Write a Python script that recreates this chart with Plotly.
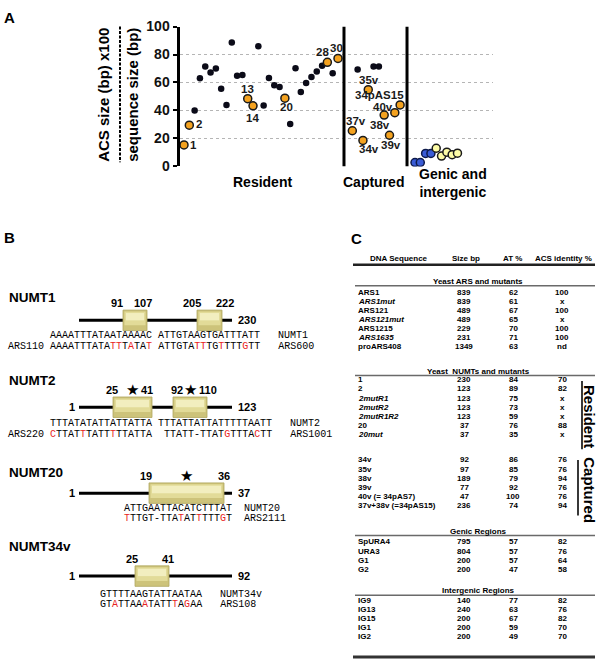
import plotly.graph_objects as go

W, H = 603, 670
ARIAL = "Liberation Sans, Arial, sans-serif"
MONO = "Liberation Mono, Courier New, monospace"
RED = "#e8231c"

# ---------------- Panel A data ----------------
resident_vals = [15.4, 29.5, 40, 63, 71.4, 67.2, 70, 55.5, 44, 88.6, 64.9, 65.3, 48.4, 43.3, 86,
                 43.5, 63.2, 58, 56.7, 48.8, 30.4, 70.2, 53.2, 59.7, 63.9, 67.9, 71.9, 74.4, 66.7, 77.2]
resident_labels = ["1", "2", "", "", "", "", "", "", "", "", "", "", "13", "14", "", "", "", "", "", "20",
                   "", "", "", "", "", "", "", "28", "", "30"]
captured_vals = [25.5, 69.3, 18.6, 54.9, 71.4, 71.4, 36.7, 22.3, 38.4, 44.0]
captured_labels = ["37v", "", "34v", "35v", "", "", "38v", "39v", "40v", "34pAS15"]
genic_vals = [2.8, 2.8, 9.3, 9.3]
intergenic_vals = [13.0, 7.4, 10.2, 8.4, 9.5]
y_ticks = [0, 20, 40, 60, 80, 100]
group_names = ["Resident", "Captured", "Genic and<br>intergenic"]

# label offsets (px) for highlighted points
label_shift = {"1": (9, 0), "2": (10, 1), "13": (0, 10), "14": (-1, -12), "20": (2, -9),
               "28": (-5, 10), "30": (-1, 10), "37v": (4, 10), "34v": (6, -9), "35v": (1, 10),
               "38v": (-4, -10), "40v": (-12, 6), "39v": (1, -10), "34pAS15": (-21, 10)}

# ---------------- Panel B data ----------------
numt_names = ["NUMT1", "NUMT2", "NUMT20", "NUMT34v"]
numt_lengths = [230, 123, 37, 92]
numt_acs = [[(91, 107), (205, 222)], [(25, 41), (92, 110)], [(19, 36)], [(25, 41)]]
numt_stars = [[False, False], [True, True], [True], [False]]
numt_top = [["AAAATTTATAATAAAAC", "ATTGTAAGTGATTTATT"],
            ["TTTATATATTATTATTA", "TTTATTATTATTTTTAATT"],
            ["ATTGAATTACATCTTTAT"],
            ["GTTTTAAGTATTAATAA"]]
numt_bot = [["AAAATTTATATTTATAT", "ATTGTATTTGTTTTGTT"],
            ["CTTATTTATTTTTATTA", "TTATT-TTATGTTTACTT"],
            ["TTTGT-TTATATTTTTGT"],
            ["GTATTAAATATTTAGAA"]]
numt_red = [[[11, 12, 14, 17], [7, 8, 11, 15]],
            [[1, 6, 11], [11, 16]],
            [[1, 10, 13, 17]],
            [[3, 8, 13, 15]]]
ars_names = ["ARS110", "ARS220", "", ""]
right_top = ["NUMT1", "NUMT2", "NUMT20", "NUMT34v"]
right_bot = ["ARS600", "ARS1001", "ARS2111", "ARS108"]

# ---------------- Panel C data ----------------
col_headers = ["DNA Sequence", "Size bp", "AT %", "ACS identity %"]
sections = ["Yeast ARS and mutants", "Yeast  NUMTs and mutants", "", "Genic Regions", "Intergenic Regions"]
sec_names = [["ARS1", "ARS1mut", "ARS121", "ARS121mut", "ARS1215", "ARS1635", "proARS408"],
             ["1", "2", "2mutR1", "2mutR2", "2mutR1R2", "20", "20mut"],
             ["34v", "35v", "38v", "39v", "40v (= 34pAS7)", "37v+38v (=34pAS15)"],
             ["SpURA4", "URA3", "G1", "G2"],
             ["IG9", "IG13", "IG15", "IG1", "IG2"]]
sec_size = [[839, 839, 489, 489, 229, 231, 1349], [230, 123, 123, 123, 123, 37, 37],
            [92, 97, 189, 77, 47, 236], [795, 804, 200, 200], [140, 240, 200, 200, 200]]
sec_at = [[62, 61, 67, 65, 70, 71, 63], [84, 89, 75, 73, 59, 76, 35],
          [86, 85, 79, 92, 100, 74], [57, 57, 57, 47], [77, 63, 67, 59, 49]]
sec_acs = [["100", "x", "100", "x", "100", "100", "nd"], ["70", "82", "x", "x", "x", "88", "x"],
           ["76", "76", "94", "76", "76", "94"], ["82", "76", "64", "58"], ["82", "76", "82", "70", "70"]]
italic_names = {"ARS1mut", "ARS121mut", "ARS1635", "2mutR1", "2mutR2", "2mutR1R2", "20mut"}
side_labels = ["Resident", "Captured"]

# ---------------- helpers ----------------
ann, shp = [], []


def px(x):
    return x / W


def py(y):
    return 1 - y / H


def text(x, y, s, size, anchor="center", color="#000000", family=ARIAL, angle=0, bold=True):
    ann.append(dict(x=px(x), y=py(y), xref="paper", yref="paper", text=(f"<b>{s}</b>" if bold else s),
                    showarrow=False, xanchor=anchor, yanchor="middle", textangle=angle,
                    font=dict(size=size, color=color, family=family), borderpad=0))


def line(x0, y0, x1, y1, width=1, color="black", dash="solid"):
    shp.append(dict(type="line", xref="paper", yref="paper", x0=px(x0), y0=py(y0), x1=px(x1), y1=py(y1),
                    line=dict(color=color, width=width, dash=dash)))


def rect(x0, y0, x1, y1, fill, lc="rgba(0,0,0,0)", lw=0):
    shp.append(dict(type="rect", xref="paper", yref="paper", x0=px(x0), y0=py(y0), x1=px(x1), y1=py(y1),
                    fillcolor=fill, line=dict(color=lc, width=lw), layer="above"))


# ---------------- Panel A ----------------
fig = go.Figure()
x0_px, step_px = 184.0, 5.31
cap_start, gen_start = 32.7, 44.5
res_x = [i + 1 for i in range(len(resident_vals))]
cap_x = [cap_start + i for i in range(len(captured_vals))]
gen_x = [gen_start + i for i in range(len(genic_vals))]
ig_x = [gen_start + len(genic_vals) + i for i in range(len(intergenic_vals))]


def split(xs, vals, labels):
    hx, hy, bx, by = [], [], [], []
    for x, v, l in zip(xs, vals, labels):
        if l:
            hx.append(x); hy.append(v)
        else:
            bx.append(x); by.append(v)
    return hx, hy, bx, by


rhx, rhy, rbx, rby = split(res_x, resident_vals, resident_labels)
chx, chy, cbx, cby = split(cap_x, captured_vals, captured_labels)
fig.add_trace(go.Scatter(x=rbx + cbx, y=rby + cby, mode="markers",
                         marker=dict(size=6.5, color="#0b0b18"), showlegend=False))
fig.add_trace(go.Scatter(x=rhx + chx, y=rhy + chy, mode="markers",
                         marker=dict(size=8, color="#f4a21f", line=dict(color="#1a1a1a", width=1.5)),
                         showlegend=False))
fig.add_trace(go.Scatter(x=gen_x, y=genic_vals, mode="markers",
                         marker=dict(size=8, color="#3a5cd6", line=dict(color="#0e1a4a", width=1.5)),
                         showlegend=False))
fig.add_trace(go.Scatter(x=ig_x, y=intergenic_vals, mode="markers",
                         marker=dict(size=8, color="#fdfca6", line=dict(color="#1a1a1a", width=1.5)),
                         showlegend=False))

for xs, vals, labels in [(res_x, resident_vals, resident_labels), (cap_x, captured_vals, captured_labels)]:
    for x, v, l in zip(xs, vals, labels):
        if l:
            dx, dy = label_shift[l]
            ann.append(dict(x=x, y=v, xref="x", yref="y", text=f"<b>{l}</b>", showarrow=False,
                            xshift=dx, yshift=dy, borderpad=0,
                            font=dict(size=11.5, color="#1a1a1a", family=ARIAL)))

# separators
for sep in [31.13, 43.0]:
    shp.append(dict(type="line", xref="x", yref="y", x0=sep, x1=sep, y0=0, y1=100,
                    line=dict(color="black", width=3)))

ax_left, ax_right, y_top, y_bot = 179.5, 493, 19, 162.3
xr0 = 1 + (ax_left - x0_px) / step_px
xr1 = 1 + (ax_right - x0_px) / step_px
fig.update_xaxes(domain=[px(ax_left), px(ax_right)], range=[xr0, xr1], visible=False)
fig.update_yaxes(domain=[py(y_bot), py(y_top)], range=[0, 100], tickvals=y_ticks,
                 showgrid=True, gridcolor="#b5b5b5", griddash="dot", gridwidth=1, zeroline=False,
                 showline=True, linecolor="black", linewidth=3, ticks="outside", ticklen=4, tickwidth=2,
                 tickcolor="black", tickfont=dict(size=14, family=ARIAL, color="#111", weight="bold"))

text(9, 10, "A", 15)
text(104, 89, "ACS size (bp) x100", 15, angle=-90)
text(133, 89, "sequence size (bp)", 15, angle=-90)
line(120, 19, 120, 158, width=2, dash="3px,1.5px")
text(262, 178, group_names[0], 14)
text(374, 178, group_names[1], 14)
text(418, 179, group_names[2], 14, anchor="left")

# ---------------- Panel B (schematic, not to scale) ----------------
text(9, 235, "B", 15)
sec_y = [297, 382, 476, 552]      # name label
line_y = [320, 409, 497, 582]
seq_y = [336, 426, 513, 601]
seq_x = [49, 49, 123, 99]
label_gap = [3, 3, 2, 3]          # spaces between sequence and right-hand label
line_x0, line_x1 = 79, 232
box_px = [[(123, 147), (197, 222)], [(113, 152), (173, 207)], [(149, 224)], [(135, 169)]]
num_px = [[(117, 143), (192, 225)], [(112, 147), (177, 208)], [(146, 224)], [(132, 168)]]
CW = 6.0
LS = 10.5
NB = "\u00a0"


def colored(seq, reds):
    out = []
    for i, ch in enumerate(seq):
        out.append(f"<span style='color:{RED}'>{ch}</span>" if (i + 1) in reds else ch)
    return "".join(out)


for k, name in enumerate(numt_names):
    L = numt_lengths[k]
    text(8, sec_y[k], name, 13.5, anchor="left")
    ly = line_y[k]
    line(line_x0, ly, line_x1, ly, width=3)
    if k > 0:
        text(line_x0 - 3, ly, "1", 11, anchor="right")
    text(line_x1 + 5, ly, str(L), 11, anchor="left")

    for j, (a, b) in enumerate(numt_acs[k]):
        bx0, bx1 = box_px[k][j]
        nx0, nx1 = num_px[k][j]
        rect(bx0, ly - 10.5, bx1, ly + 10.5, "#cdc37a", "#b0a760", 0.8)
        rect(bx0 + 1.5, ly - 9, bx1 - 1.5, ly + 5, "#e2db98")
        rect(bx0 + 3, ly - 7.5, bx1 - 3, ly, "#f2eebf")
        text(nx0, ly - 18, str(a), 11)
        text(nx1, ly - 18, str(b), 11)
        if numt_stars[k][j]:
            text((bx0 + bx1) / 2, ly - 18, "★", 15, bold=False)

    # sequences (one text element per line, label appended)
    tops, bots, reds = numt_top[k], numt_bot[k], numt_red[k]
    if len(tops) == 2:
        gap_bot = NB if len(bots[1]) == len(tops[1]) else NB * 2
        top_plain = tops[0] + NB + tops[1]
        bot_plain_len = len(bots[0]) + len(gap_bot) + len(bots[1])
        bot_s = colored(bots[0], reds[0]) + gap_bot + colored(bots[1], reds[1])
    else:
        top_plain = tops[0]
        bot_plain_len = len(bots[0])
        bot_s = colored(bots[0], reds[0])
    width = max(len(top_plain), bot_plain_len)
    top_s = top_plain + NB * (width - len(top_plain) + label_gap[k]) + right_top[k]
    bot_s = bot_s + NB * (width - bot_plain_len + label_gap[k]) + right_bot[k]
    bx = seq_x[k]
    if ars_names[k]:
        bot_s = ars_names[k] + NB + bot_s
        bx = seq_x[k] - (len(ars_names[k]) + 1) * CW
    text(seq_x[k], seq_y[k], top_s, 10, anchor="left", family=MONO, bold=False)
    text(bx, seq_y[k] + LS, bot_s, 10, anchor="left", family=MONO, bold=False)

# ---------------- Panel C ----------------
text(356, 236, "C", 15)
col_x = [357, 464, 513, 562]
text(399, 257, col_headers[0], 8)
text(466, 257, col_headers[1], 8)
text(512, 257, col_headers[2], 8)
text(563, 257, col_headers[3], 8)
line(353, 263, 595, 263, width=2.5, color="#222")

sec_head_y = [280, 372, None, 536, 597]
first_row_y = [291, 381, 463, 547, 607]
row_h = 9.3
for s in range(5):
    if sections[s]:
        text(478, sec_head_y[s], sections[s], 8)
        line(355, sec_head_y[s] + 4.5, 595, sec_head_y[s] + 4.5, width=1.5, color="#6a6a6a")
    for r, nm in enumerate(sec_names[s]):
        yy = first_row_y[s] + r * row_h
        label = f"<i>{nm}</i>" if nm in italic_names else nm
        text(col_x[0], yy, label, 8, anchor="left")
        text(col_x[1], yy, str(sec_size[s][r]), 8)
        text(col_x[2], yy, str(sec_at[s][r]), 8)
        text(col_x[3], yy, sec_acs[s][r], 8)

line(353, 665, 595, 665, width=3, color="#333")
line(582, 382, 582, 452, width=1.8, color="#222")
line(578, 463, 578, 520, width=1.8, color="#222")
text(590, 418, side_labels[0], 15, angle=90)
text(590, 494, side_labels[1], 15, angle=90)

fig.update_layout(width=W, height=H, margin=dict(l=0, r=0, t=0, b=0), paper_bgcolor="white",
                  plot_bgcolor="white", annotations=ann, shapes=shp, showlegend=False)
fig.write_html("out.html", config={"displayModeBar": False},
               post_script="document.body.style.margin='0px';")
